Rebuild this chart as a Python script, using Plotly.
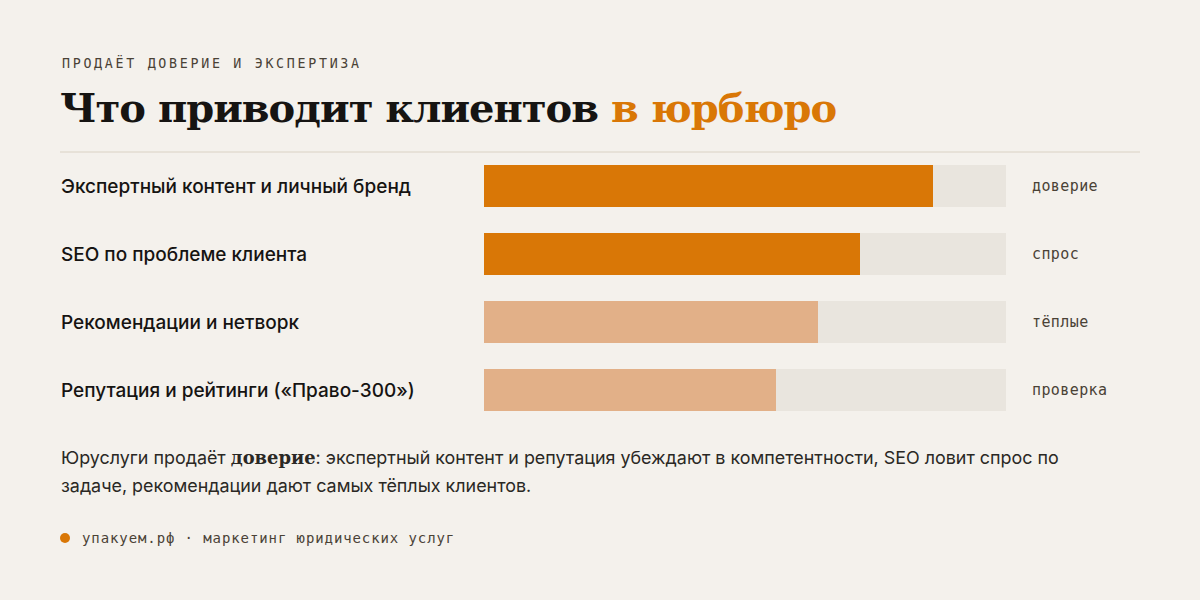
import plotly.graph_objects as go

# ---- data ----
categories = [
    "Экспертный контент и личный бренд",
    "SEO по проблеме клиента",
    "Рекомендации и нетворк",
    "Репутация и рейтинги («Право-300»)",
]
values = [86, 72, 64, 56]
tags = ["доверие", "спрос", "тёплые", "проверка"]
highlight = [True, True, False, False]
max_value = 100

eyebrow = "ПРОДАЁТ ДОВЕРИЕ И ЭКСПЕРТИЗА"
title_main = "Что приводит клиентов "
title_accent = "в юрбюро"
body_line1_pre = "Юруслуги продаёт "
body_bold = "доверие"
body_line1_post = ": экспертный контент и репутация убеждают в компетентности, SEO ловит спрос по"
body_line2 = "задаче, рекомендации дают самых тёплых клиентов."
footer = "упакуем.рф · маркетинг юридических услуг"

# ---- style ----
BG = "#F4F1EC"
TRACK = "#E9E5DE"
ORANGE = "#D97706"
LIGHT = "#E2B088"
INK = "#161412"
MUTED = "#4A4236"
RULE = "#DAD2C4"

W, H = 1200, 600
PL, PR = 484, 1006   # plot area x in pixels
PT, PB = 152, 424    # plot area y in pixels


def px(x):
    return (x - PL) / (PR - PL)


def py(y):
    return (PB - y) / (PB - PT)


fig = go.Figure()
fig.add_trace(go.Bar(
    y=categories, x=[max_value] * len(categories), orientation="h",
    marker=dict(color=TRACK, line=dict(width=0)), width=0.618,
    hoverinfo="skip", showlegend=False,
))
fig.add_trace(go.Bar(
    y=categories, x=values, orientation="h",
    marker=dict(color=[ORANGE if h else LIGHT for h in highlight], line=dict(width=0)),
    width=0.618, hoverinfo="skip", showlegend=False,
))

ann = []
# eyebrow
ann.append(dict(
    text=f'<span style="letter-spacing:2.7px">{eyebrow}</span>',
    x=px(60), y=py(62.5), xref="paper", yref="paper", xanchor="left", yanchor="middle",
    showarrow=False, font=dict(family="DejaVu Sans Mono", size=13.3, color=MUTED),
))
# title
ann.append(dict(
    text=(f'<span style="letter-spacing:-1px">{title_main}</span>'
          f'<span style="color:{ORANGE};letter-spacing:-1px">{title_accent}</span>'),
    x=px(58), y=py(108), xref="paper", yref="paper", xanchor="left", yanchor="middle",
    showarrow=False, font=dict(family="DejaVu Serif", size=40, color=INK, weight=800),
))
# category labels and tags
for c, t in zip(categories, tags):
    ann.append(dict(
        text=c, x=px(59), y=c, xref="paper", yref="y", xanchor="left", yanchor="middle",
        showarrow=False, font=dict(family="Inter", size=19, color=INK, weight=500),
    ))
    ann.append(dict(
        text=f'<span style="letter-spacing:0.4px">{t}</span>', x=px(1030), y=c, xref="paper", yref="y",
        xanchor="left", yanchor="middle",
        showarrow=False, font=dict(family="DejaVu Sans Mono", size=15, color=MUTED),
    ))
# body
ann.append(dict(
    text=(f'{body_line1_pre}<b><span style="font-family:DejaVu Serif">{body_bold}</span></b>'
          f'{body_line1_post}'),
    x=px(59), y=py(457), xref="paper", yref="paper", xanchor="left", yanchor="middle",
    showarrow=False, font=dict(family="Inter", size=17.9, color="#2A2824"),
))
ann.append(dict(
    text=body_line2,
    x=px(59), y=py(485), xref="paper", yref="paper", xanchor="left", yanchor="middle",
    showarrow=False, font=dict(family="Inter", size=17.9, color="#2A2824"),
))
# footer
ann.append(dict(
    text=f'<span style="letter-spacing:0.9px">{footer}</span>',
    x=px(80), y=py(538), xref="paper", yref="paper", xanchor="left", yanchor="middle",
    showarrow=False, font=dict(family="DejaVu Sans Mono", size=14, color=MUTED),
))

shapes = [
    dict(type="line", xref="paper", yref="paper", x0=px(60), x1=px(1140), y0=py(152), y1=py(152),
         line=dict(color=RULE, width=1)),
    dict(type="circle", xref="paper", yref="paper", x0=px(60), x1=px(70), y0=py(533), y1=py(543),
         fillcolor=ORANGE, line=dict(width=0)),
]

fig.update_layout(
    width=W, height=H,
    margin=dict(l=PL, r=W - PR, t=PT, b=H - PB, pad=0),
    paper_bgcolor=BG, plot_bgcolor=BG,
    barmode="overlay", bargap=0,
    xaxis=dict(range=[0, max_value], visible=False, fixedrange=True),
    yaxis=dict(type="category", categoryorder="array", categoryarray=categories,
               autorange=False, range=[len(categories) - 0.5, -0.5], visible=False, fixedrange=True),
    annotations=ann, shapes=shapes,
    showlegend=False,
)

fig.write_html("out.html", config={"displayModeBar": False})
